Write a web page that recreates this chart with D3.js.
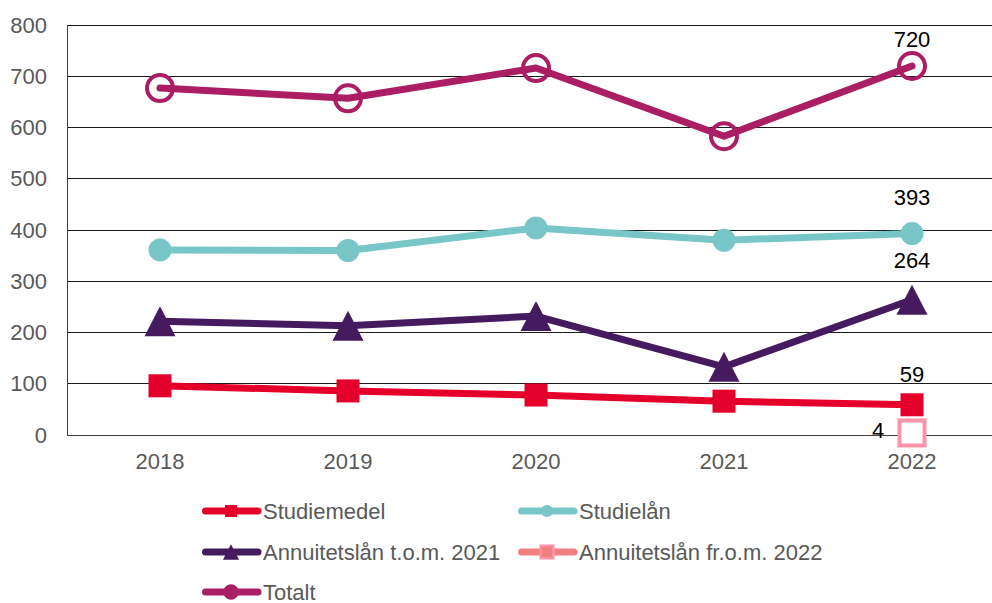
<!DOCTYPE html>
<html><head><meta charset="utf-8">
<script src="https://cdn.jsdelivr.net/npm/d3@7"></script>
<style>body{margin:0;background:#fff}svg{display:block}</style>
</head><body>
<script>
const years = ["2018","2019","2020","2021","2022"];
const studiemedel = [96, 86, 78, 66, 59];
const studielan = [361, 360, 404, 380, 393];
const annuitetTom2021 = [222, 213, 232, 133, 264];
const annuitetFrom2022 = [null, null, null, null, 4];
const totalt = [677, 657, 716, 583, 720];
const yTicks = [0,100,200,300,400,500,600,700,800];

const W = 992, H = 603;
const svg = d3.select("body").append("svg").attr("width", W).attr("height", H);
const font = "'Liberation Sans', Arial, sans-serif";

const x = d3.scaleBand().domain(years).range([66, 1006]).paddingInner(0).paddingOuter(0);
const cx = d => x(d) + x.bandwidth()/2;
const y = d3.scaleLinear().domain([0, 800]).range([435, 25]);

// grid
svg.append("g").selectAll("line").data(yTicks.filter(d=>d>0)).join("line")
  .attr("x1", 67).attr("x2", W).attr("y1", d=>y(d)).attr("y2", d=>y(d))
  .attr("stroke", "#1a1a1a").attr("stroke-width", 1).attr("shape-rendering","crispEdges");

// axes
const yAxis = svg.append("g").attr("transform","translate(67,0)")
  .call(d3.axisLeft(y).tickValues(yTicks).tickSize(0).tickPadding(20));
yAxis.select(".domain").attr("stroke","#404040");
yAxis.selectAll("text").attr("font-family", font).attr("font-size", 22).attr("fill","#595959");
const xAxis = svg.append("g").attr("transform","translate(0,435)")
  .call(d3.axisBottom(x).tickSize(0).tickPadding(18));
xAxis.select(".domain").remove();
svg.append("line").attr("x1",67).attr("x2",W).attr("y1",435).attr("y2",435)
  .attr("stroke","#404040").attr("shape-rendering","crispEdges");
xAxis.selectAll("text").attr("font-family", font).attr("font-size", 22).attr("fill","#595959");

const series = [
  {name:"Studiemedel", values:studiemedel, color:"#E4002B", marker:"square"},
  {name:"Studielån", values:studielan, color:"#78C6C8", marker:"dot"},
  {name:"Annuitetslån t.o.m. 2021", values:annuitetTom2021, color:"#461A5E", marker:"triangle"},
  {name:"Annuitetslån fr.o.m. 2022", values:annuitetFrom2022, color:"#F08080", marker:"opensquare", mcolor:"#FF94A8"},
  {name:"Totalt", values:totalt, color:"#AB1E63", marker:"opencircle"}
];

const line = d3.line().defined(d=>d.v!=null).x(d=>cx(d.year)).y(d=>y(d.v));

function drawMarker(g, type, color, mcolor, px, py, scale){
  const s = scale || 1;
  if(type==="square"){
    g.append("rect").attr("x",px-11.5*s).attr("y",py-11.5*s).attr("width",23*s).attr("height",23*s).attr("fill",color);
  } else if(type==="dot"){
    g.append("circle").attr("cx",px).attr("cy",py).attr("r",11.5*s).attr("fill",color);
  } else if(type==="triangle"){
    g.append("path").attr("d",`M${px},${py-15*s}L${px+15.5*s},${py+15*s}L${px-15.5*s},${py+15*s}Z`).attr("fill",color);
  } else if(type==="opensquare"){
    g.append("rect").attr("x",px-12.5*s).attr("y",py-12.5*s).attr("width",25*s).attr("height",25*s)
      .attr("fill",s<1?color:"#fff").attr("stroke",mcolor||color).attr("stroke-width",4*s);
  } else if(type==="opencircle"){
    g.append("circle").attr("cx",px).attr("cy",py).attr("r",13*s).attr("fill",s<1?color:"none")
      .attr("stroke",color).attr("stroke-width",4*s);
  }
}

series.forEach(s=>{
  const pts = years.map((yr,i)=>({year:yr, v:s.values[i]}));
  const g = svg.append("g");
  g.append("path").datum(pts).attr("d", line).attr("fill","none")
    .attr("stroke", s.color).attr("stroke-width", 7).attr("stroke-linejoin","round").attr("stroke-linecap","round");
  pts.filter(p=>p.v!=null).forEach(p=>drawMarker(g, s.marker, s.color, s.mcolor, cx(p.year), y(p.v)));
});

// data labels on last year
const last = years.length-1;
const lblFont = 22;
function label(txt, px, py, anchor){
  svg.append("text").attr("x",px).attr("y",py).attr("text-anchor",anchor||"middle")
    .attr("font-family",font).attr("font-size",lblFont).attr("fill","#000").text(txt);
}
label(totalt[last], cx(years[last]), y(totalt[last])-19);
label(studielan[last], cx(years[last]), y(studielan[last])-29);
label(annuitetTom2021[last], cx(years[last]), y(annuitetTom2021[last])-32);
label(studiemedel[last], cx(years[last]), y(studiemedel[last])-23);
label(annuitetFrom2022[last], cx(years[last])-34, y(annuitetFrom2022[last])+5, "middle");

// legend
const legendPos = [[202,511],[518,511],[202,552],[518,552],[202,592]];
series.forEach((s,i)=>{
  const [lx,ly] = legendPos[i];
  const g = svg.append("g");
  g.append("line").attr("x1",lx+3.5).attr("x2",lx+56).attr("y1",ly).attr("y2",ly)
    .attr("stroke",s.color).attr("stroke-width",7).attr("stroke-linecap","round");
  drawMarker(g, s.marker, s.color, s.mcolor, lx+29, ly, 0.52);
  g.append("text").attr("x",lx+61).attr("y",ly+7.5).attr("font-family",font).attr("font-size",22)
    .attr("fill","#595959").text(s.name);
});
</script>
</body></html>
